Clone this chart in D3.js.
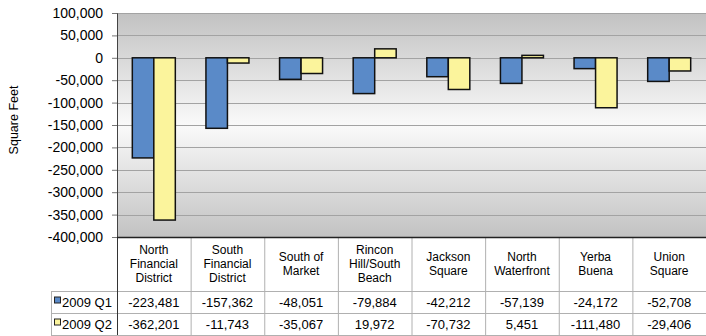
<!DOCTYPE html>
<html>
<head>
<meta charset="utf-8">
<script src="https://cdn.jsdelivr.net/npm/d3@7"></script>
<style>
  body { margin: 0; background: #fff; }
  svg { display: block; font-family: "Liberation Sans", Arial, sans-serif; }
</style>
</head>
<body>
<svg width="706" height="336"></svg>
<script>
var categories = [
  ['North', 'Financial', 'District'],
  ['South', 'Financial', 'District'],
  ['South of', 'Market'],
  ['Rincon', 'Hill/South', 'Beach'],
  ['Jackson', 'Square'],
  ['North', 'Waterfront'],
  ['Yerba', 'Buena'],
  ['Union', 'Square']
];
var seriesNames = ['2009 Q1', '2009 Q2'];
var q1 = [-223481, -157362, -48051, -79884, -42212, -57139, -24172, -52708];
var q2 = [-362201, -11743, -35067, 19972, -70732, 5451, -111480, -29406];
var yTicks = [100000, 50000, 0, -50000, -100000, -150000, -200000, -250000, -300000, -350000, -400000];
var colors = ['#5a8ac8', '#fbf49c'];

(function () {
  var svg = d3.select('svg');
  var left = 117, right = 706, plotTop = 13, plotBottom = 237;
  var rowTop = 291, rowH = 22;
  var fmt = d3.formatLocale({ decimal: '.', thousands: ',', grouping: [3], currency: ['$', ''], minus: '-' }).format(',');

  var x = d3.scaleBand()
    .domain(d3.range(categories.length))
    .range([left, right]);
  var x1 = d3.scaleBand()
    .domain([0, 1])
    .range([0, 43]);
  var y = d3.scaleLinear()
    .domain([-400000, 100000])
    .range([plotBottom, plotTop]);

  // background gradient
  var defs = svg.append('defs');
  var grad = defs.append('linearGradient')
    .attr('id', 'bg')
    .attr('x1', 0).attr('y1', 0).attr('x2', 0).attr('y2', 1);
  grad.append('stop').attr('offset', '0%').attr('stop-color', '#c2c2c2');
  grad.append('stop').attr('offset', '50%').attr('stop-color', '#fafafa');
  grad.append('stop').attr('offset', '100%').attr('stop-color', '#c2c2c2');

  svg.append('rect')
    .attr('x', left)
    .attr('y', plotTop)
    .attr('width', right - left)
    .attr('height', plotBottom - plotTop)
    .attr('fill', 'url(#bg)');

  // gridlines
  svg.append('g')
    .selectAll('line')
    .data(yTicks)
    .enter()
    .append('line')
    .attr('x1', left)
    .attr('x2', right)
    .attr('y1', function (d) { return Math.round(y(d)) + 0.5; })
    .attr('y2', function (d) { return Math.round(y(d)) + 0.5; })
    .attr('stroke', '#a3a3a3')
    .attr('stroke-width', 1.2);

  // y axis
  var yAxis = svg.append('g')
    .attr('transform', 'translate(' + left + ',0)')
    .call(d3.axisLeft(y).tickValues(yTicks).tickFormat(fmt).tickSize(5).tickPadding(9));
  yAxis.select('.domain').attr('stroke', '#444');
  yAxis.selectAll('.tick line').attr('stroke', '#777');
  yAxis.selectAll('text')
    .attr('font-size', 14)
    .attr('fill', '#000')
    .attr('font-family', '"Liberation Sans", Arial, sans-serif');

  svg.append('text')
    .attr('transform', 'translate(18,' + ((plotTop + plotBottom) / 2 - 5) + ') rotate(-90)')
    .attr('text-anchor', 'middle')
    .attr('font-size', 12.5)
    .text('Square Feet');

  // bars
  var series = [q1, q2];
  var barOffset = (x.bandwidth() - 43) / 2;
  series.forEach(function (vals, s) {
    svg.append('g')
      .selectAll('rect')
      .data(vals)
      .enter()
      .append('rect')
      .attr('x', function (d, i) { return x(i) + barOffset + x1(s); })
      .attr('y', function (d) { return y(Math.max(0, d)); })
      .attr('width', x1.bandwidth())
      .attr('height', function (d) { return Math.abs(y(d) - y(0)); })
      .attr('fill', colors[s])
      .attr('stroke', '#111')
      .attr('stroke-width', 1.5);
  });

  // data table
  var tbl = svg.append('g');
  var tableBottom = rowTop + rowH * 2;
  tbl.selectAll('line.v')
    .data(d3.range(1, categories.length))
    .enter()
    .append('line')
    .attr('x1', function (i) { return x(i) + 0.5; })
    .attr('x2', function (i) { return x(i) + 0.5; })
    .attr('y1', plotBottom)
    .attr('y2', tableBottom)
    .attr('stroke', '#b0b0b0');
  [rowTop, rowTop + rowH, tableBottom].forEach(function (yy) {
    tbl.append('line')
      .attr('x1', 51)
      .attr('x2', right)
      .attr('y1', yy + 0.5)
      .attr('y2', yy + 0.5)
      .attr('stroke', '#b0b0b0');
  });
  tbl.append('line')
    .attr('x1', 51.5).attr('x2', 51.5)
    .attr('y1', rowTop).attr('y2', tableBottom)
    .attr('stroke', '#b0b0b0');
  tbl.append('line')
    .attr('x1', left + 0.5).attr('x2', left + 0.5)
    .attr('y1', plotBottom).attr('y2', tableBottom)
    .attr('stroke', '#333');
  svg.append('line')
    .attr('x1', left).attr('x2', right)
    .attr('y1', plotBottom + 0.5).attr('y2', plotBottom + 0.5)
    .attr('stroke', '#222')
    .attr('stroke-width', 1.5);

  // category headers
  categories.forEach(function (lines, i) {
    var cx = x(i) + x.bandwidth() / 2;
    var cy = (plotBottom + rowTop) / 2 + 4 - (lines.length - 1) * 7;
    var t = tbl.append('text')
      .attr('text-anchor', 'middle')
      .attr('font-size', 12);
    lines.forEach(function (ln, k) {
      t.append('tspan')
        .attr('x', cx)
        .attr('y', cy + k * 14)
        .text(ln);
    });
  });

  // rows
  series.forEach(function (vals, s) {
    var ry = rowTop + rowH * s + rowH / 2 + 4.5;
    tbl.append('rect')
      .attr('x', 54.5)
      .attr('y', ry - 9.5)
      .attr('width', 6)
      .attr('height', 6)
      .attr('fill', colors[s])
      .attr('stroke', '#222');
    tbl.append('text')
      .attr('x', 62)
      .attr('y', ry)
      .attr('font-size', 13)
      .text(seriesNames[s]);
    tbl.selectAll('text.v' + s)
      .data(vals)
      .enter()
      .append('text')
      .attr('x', function (d, i) { return x(i) + x.bandwidth() / 2; })
      .attr('y', ry)
      .attr('text-anchor', 'middle')
      .attr('font-size', 13)
      .text(function (d) { return fmt(d); });
  });
})();
</script>
</body>
</html>
